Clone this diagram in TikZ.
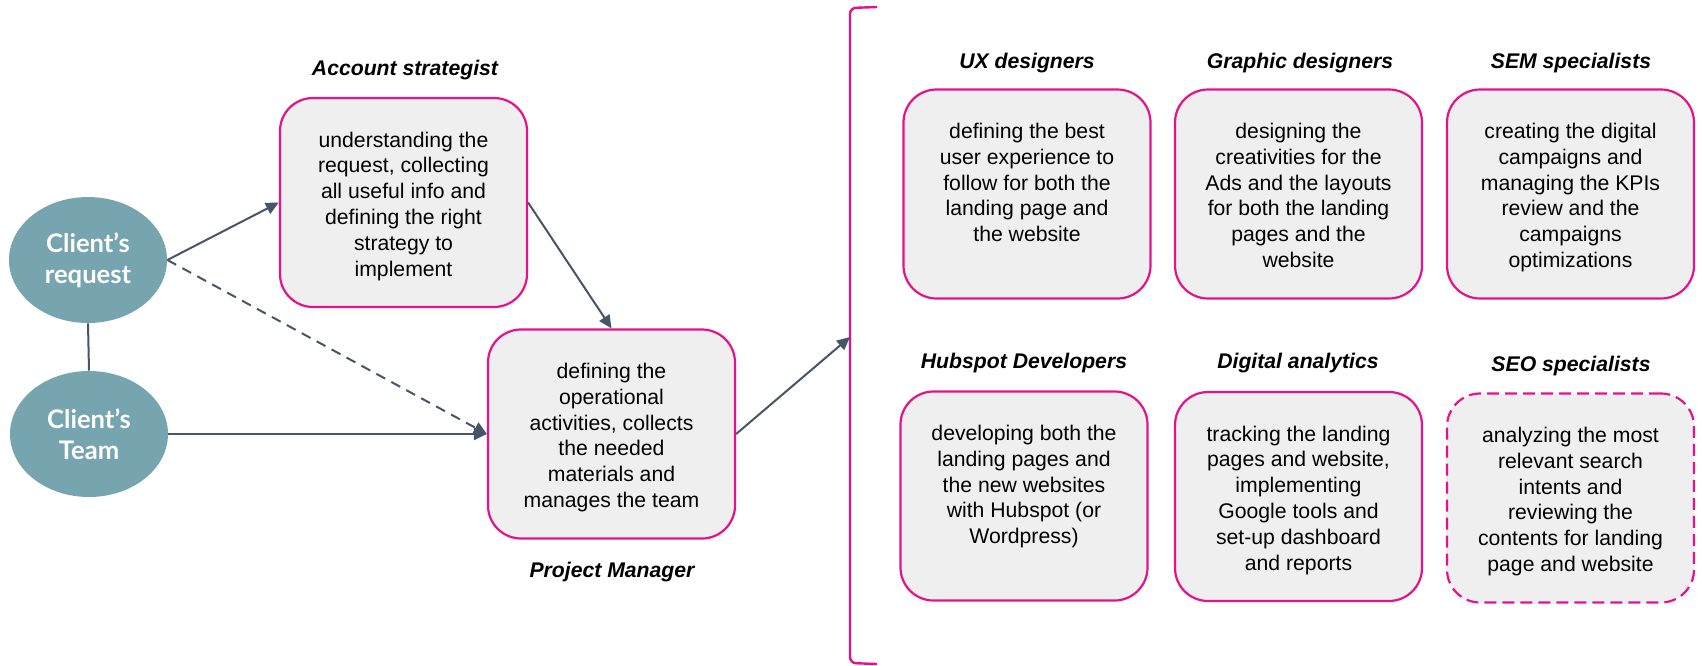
\documentclass[tikz,border=0pt]{standalone}
\usepackage{fontspec}
\setmainfont{Liberation Sans}
\newfontfamily\clientfont{Lato}
\usetikzlibrary{arrows.meta,shapes.geometric}

\definecolor{clientteal}{HTML}{76A5AF}
\definecolor{rolepink}{HTML}{E5128B}
\definecolor{cardgray}{HTML}{EFEFEF}
\definecolor{flowslate}{HTML}{475569}

% card body: text hangs from the top of the card
\newcommand{\cardtext}[1]{\parbox[c][80pt][t]{118pt}{\centering\rule{0pt}{12.25pt}#1}}

\begin{document}
\begin{tikzpicture}[x=0.5pt,y=-0.5pt,
    client/.style={ellipse,fill=clientteal,minimum width=79pt,minimum height=63pt,
      inner sep=0pt,text=white,align=center,
      font=\clientfont\bfseries\fontsize{12.8pt}{15.5pt}\selectfont},
    card/.style={draw=rolepink,line width=1.1pt,fill=cardgray,rounded corners=16.5pt,
      minimum width=123.5pt,minimum height=104.5pt,inner sep=0pt,
      font=\fontsize{10.6pt}{12.9pt}\selectfont},
    role/.style={font=\bfseries\itshape\fontsize{10.6pt}{12.9pt}\selectfont},
    flow/.style={draw=flowslate,line width=1pt,-{Triangle[length=6.5pt,width=6pt]}}]
  \useasboundingbox (0,0) rectangle (1702,665);

  % Client side
  \node[client] (req) at (88,260) {Client’s\\request};
  \node[client] (team) at (89,434) {Client’s\\Team};

  % Account strategist and project manager
  \node[role] (asLabel) at (405,70) {Account strategist};
  \node[card] (as) at (403.5,202.5) {\cardtext{understanding the\\request, collecting\\all useful info and\\defining the right\\strategy to\\implement}};

  \node[card] (pm) at (611.5,434) {\cardtext{defining the\\operational\\activities, collects\\the needed\\materials and\\manages the team}};
  \node[role] (pmLabel) at (612,572) {Project Manager};

  % Bracket grouping the team
  \draw[rolepink,line width=1.2pt,rounded corners=3pt] (877,7) -- (850,8) -- (850,663) -- (877,664);
  \coordinate (hit) at (850,337);

  % Team roles, top row
  \node[role] (uxLabel) at (1027,63) {UX designers};
  \node[card] (ux) at (1027,194) {\cardtext{defining the best\\user experience to\\follow for both the\\landing page and\\the website}};

  \node[role] (gdLabel) at (1300,63) {Graphic designers};
  \node[card] (gd) at (1298.5,194) {\cardtext{designing the\\creativities for the\\Ads and the layouts\\for both the landing\\pages and the\\website}};

  \node[role] (semLabel) at (1571,63) {SEM specialists};
  \node[card] (sem) at (1570.5,194) {\cardtext{creating the digital\\campaigns and\\managing the KPIs\\review and the\\campaigns\\optimizations}};

  % Team roles, bottom row
  \node[role] (hubLabel) at (1024,363) {Hubspot Developers};
  \node[card] (hub) at (1024,496) {\cardtext{developing both the\\landing pages and\\the new websites\\with Hubspot (or\\Wordpress)}};

  \node[role] (daLabel) at (1298,363) {Digital analytics};
  \node[card] (da) at (1298.5,496.5) {\cardtext{tracking the landing\\pages and website,\\implementing\\Google tools and\\set-up dashboard\\and reports}};

  \node[role] (seoLabel) at (1571,366) {SEO specialists};
  \node[card,dash pattern=on 6pt off 3pt] (seo) at (1570.5,498) {\cardtext{analyzing the most\\relevant search\\intents and\\reviewing the\\contents for landing\\page and website}};

  % Connectors
  \draw[draw=flowslate,line width=1pt] (req.south) -- (team.north);
  \draw[flow] (req.east) -- (as.west);
  \draw[flow,dash pattern=on 5pt off 3.5pt] (req.east) -- (pm.west);
  \draw[flow] (team.east) -- (pm.west);
  \draw[flow] (as.east) -- (pm.north);
  \draw[flow] (pm.east) -- (hit);

\end{tikzpicture}
\end{document}
